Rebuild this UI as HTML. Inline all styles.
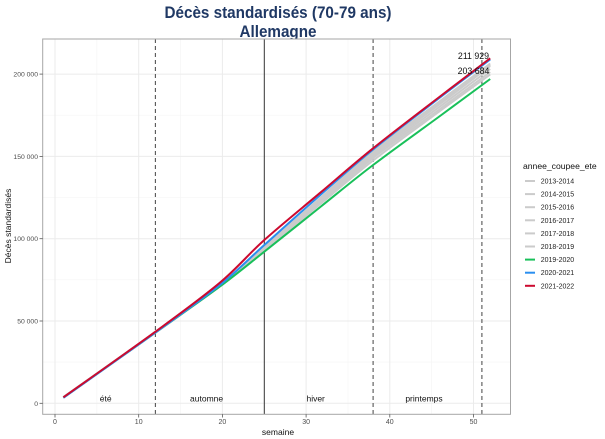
<!DOCTYPE html>
<html><head><meta charset="utf-8">
<style>
html,body{margin:0;padding:0;background:#fff;}
svg{display:block;font-family:"Liberation Sans",Arial,sans-serif;}
</style></head>
<body>
<svg id="chart" width="605" height="439" viewBox="0 0 605 439" xmlns="http://www.w3.org/2000/svg">
<rect width="605" height="439" fill="#fff"/>
<!-- title -->
<text x="278" y="18" text-anchor="middle" font-size="17" font-weight="bold" fill="#1f3864" textLength="227" lengthAdjust="spacingAndGlyphs">Décès standardisés (70-79 ans)</text>
<text x="278" y="37" text-anchor="middle" font-size="17" font-weight="bold" fill="#1f3864" textLength="77" lengthAdjust="spacingAndGlyphs">Allemagne</text>

<!-- panel -->
<rect x="42.7" y="39" width="467.8" height="375.3" fill="#fff"/>
<g stroke="#f4f4f4" stroke-width="0.6">
<line x1="42.7" x2="510.5" y1="362.1" y2="362.1"/>
<line x1="42.7" x2="510.5" y1="279.8" y2="279.8"/>
<line x1="42.7" x2="510.5" y1="197.5" y2="197.5"/>
<line x1="42.7" x2="510.5" y1="115.2" y2="115.2"/>
<line y1="39" y2="414.3" x1="96.9" x2="96.9"/>
<line y1="39" y2="414.3" x1="180.6" x2="180.6"/>
<line y1="39" y2="414.3" x1="264.3" x2="264.3"/>
<line y1="39" y2="414.3" x1="348" x2="348"/>
<line y1="39" y2="414.3" x1="431.7" x2="431.7"/>
</g>
<g stroke="#ebebeb" stroke-width="1">
<line x1="42.7" x2="510.5" y1="403.3" y2="403.3"/>
<line x1="42.7" x2="510.5" y1="321" y2="321"/>
<line x1="42.7" x2="510.5" y1="238.7" y2="238.7"/>
<line x1="42.7" x2="510.5" y1="156.4" y2="156.4"/>
<line x1="42.7" x2="510.5" y1="74.1" y2="74.1"/>
<line y1="39" y2="414.3" x1="55" x2="55"/>
<line y1="39" y2="414.3" x1="138.7" x2="138.7"/>
<line y1="39" y2="414.3" x1="222.4" x2="222.4"/>
<line y1="39" y2="414.3" x1="306.1" x2="306.1"/>
<line y1="39" y2="414.3" x1="389.8" x2="389.8"/>
<line y1="39" y2="414.3" x1="473.5" x2="473.5"/>
</g>

<!-- season lines -->
<g stroke="#555" stroke-width="1.1" stroke-dasharray="4,3">
<line x1="155.4" x2="155.4" y1="39" y2="414.3"/>
<line x1="373.1" x2="373.1" y1="39" y2="414.3"/>
<line x1="481.9" x2="481.9" y1="39" y2="414.3"/>
</g>
<line x1="264.3" x2="264.3" y1="39" y2="414.3" stroke="#333" stroke-width="1"/>

<!-- series -->
<g id="series" fill="none" stroke-linejoin="round" stroke-linecap="butt">
<g stroke="#cbcbcb" stroke-width="2">
<polyline class="s" points="63.4,397.5 155.4,332 219.9,285.5 264.3,247 320.3,198 373.1,151.5 440,101 490.2,63.5"/>
<polyline class="s" points="63.4,397.5 155.4,332.3 219.9,286 264.3,248 320.3,200 373.1,154 440,104 490.2,66"/>
<polyline class="s" points="63.4,397.5 155.4,332.5 219.9,286 264.3,249 320.3,201.5 373.1,156 440,106.5 490.2,69"/>
<polyline class="s" points="63.4,397.5 155.4,332.5 219.9,286.5 264.3,250 320.3,203 373.1,158 440,109 490.2,72"/>
<polyline class="s" points="63.4,397 155.4,332 219.9,285.5 264.3,248.5 320.3,199 373.1,153 440,102.5 490.2,65"/>
<polyline class="s" points="63.4,397.5 155.4,332.8 219.9,286.5 264.3,250.5 320.3,204 373.1,160.5 440,111 490.2,74.5"/>
</g>
<polyline class="s" stroke="#19c05a" stroke-width="2" points="63.4,397.5 155.4,332.5 219.9,286.5 264.3,251.7 320.3,207 373.1,165 440,116 490.2,79"/>
<polyline class="s" stroke="#2a8ff0" stroke-width="2" points="63.4,397.8 155.4,332.5 219.9,285 264.3,245 320.3,195 373.1,149.5 440,97.5 490.2,59.5"/>
<polyline class="s" stroke="#cc0a2f" stroke-width="2" points="63.4,397.3 155.4,331.7 219.9,282.7 264.3,240 320.3,192.7 373.1,148.3 440,96.5 490.2,58.3"/>
</g>

<!-- value labels -->
<g font-size="8.8" fill="#111" text-anchor="middle">
<text x="473.5" y="59.2">211 929</text>
<text x="473.5" y="73.9">203 684</text>
</g>

<!-- season labels -->
<g font-size="8.5" fill="#111" text-anchor="middle">
<text x="105.7" y="401.3">été</text>
<text x="206.6" y="401.3">automne</text>
<text x="315.7" y="401.3">hiver</text>
<text x="424" y="401.3">printemps</text>
</g>

<!-- panel border -->
<rect x="42.7" y="39" width="467.8" height="375.3" fill="none" stroke="#a6a6a6" stroke-width="1"/>

<!-- ticks -->
<g stroke="#555" stroke-width="0.8">
<line x1="39.5" x2="42.7" y1="403.3" y2="403.3"/>
<line x1="39.5" x2="42.7" y1="321" y2="321"/>
<line x1="39.5" x2="42.7" y1="238.7" y2="238.7"/>
<line x1="39.5" x2="42.7" y1="156.4" y2="156.4"/>
<line x1="39.5" x2="42.7" y1="74.1" y2="74.1"/>
<line y1="414.3" y2="417.5" x1="55" x2="55"/>
<line y1="414.3" y2="417.5" x1="138.7" x2="138.7"/>
<line y1="414.3" y2="417.5" x1="222.4" x2="222.4"/>
<line y1="414.3" y2="417.5" x1="306.1" x2="306.1"/>
<line y1="414.3" y2="417.5" x1="389.8" x2="389.8"/>
<line y1="414.3" y2="417.5" x1="473.5" x2="473.5"/>
</g>
<g font-size="6.8" fill="#4d4d4d" text-anchor="end">
<text x="38" y="405.8">0</text>
<text x="38" y="323.5">50 000</text>
<text x="38" y="241.2">100 000</text>
<text x="38" y="158.9">150 000</text>
<text x="38" y="76.6">200 000</text>
</g>
<g font-size="7" fill="#4d4d4d" text-anchor="middle">
<text x="55" y="424">0</text>
<text x="138.7" y="424">10</text>
<text x="222.4" y="424">20</text>
<text x="306.1" y="424">30</text>
<text x="389.8" y="424">40</text>
<text x="473.5" y="424">50</text>
</g>
<text x="278" y="435" font-size="8.5" fill="#111" text-anchor="middle">semaine</text>
<text x="0" y="0" font-size="8.5" fill="#111" text-anchor="middle" transform="translate(11,226) rotate(-90)">Décès standardisés</text>

<!-- legend -->
<text x="523" y="169" font-size="8.6" fill="#111">annee_coupee_ete</text>
<g stroke-width="2">
<line x1="525" x2="535" y1="181" y2="181" stroke="#cbcbcb"/>
<line x1="525" x2="535" y1="194.1" y2="194.1" stroke="#cbcbcb"/>
<line x1="525" x2="535" y1="207.2" y2="207.2" stroke="#cbcbcb"/>
<line x1="525" x2="535" y1="220.3" y2="220.3" stroke="#cbcbcb"/>
<line x1="525" x2="535" y1="233.4" y2="233.4" stroke="#cbcbcb"/>
<line x1="525" x2="535" y1="246.5" y2="246.5" stroke="#cbcbcb"/>
<line x1="525" x2="535" y1="259.6" y2="259.6" stroke="#19c05a"/>
<line x1="525" x2="535" y1="272.7" y2="272.7" stroke="#2a8ff0"/>
<line x1="525" x2="535" y1="285.8" y2="285.8" stroke="#cc0a2f"/>
</g>
<g font-size="7" fill="#222">
<text x="540.7" y="183.5">2013-2014</text>
<text x="540.7" y="196.6">2014-2015</text>
<text x="540.7" y="209.7">2015-2016</text>
<text x="540.7" y="222.8">2016-2017</text>
<text x="540.7" y="235.9">2017-2018</text>
<text x="540.7" y="249">2018-2019</text>
<text x="540.7" y="262.1">2019-2020</text>
<text x="540.7" y="275.2">2020-2021</text>
<text x="540.7" y="288.3">2021-2022</text>
</g>
</svg>
<script>
(function(){
  var NS="http://www.w3.org/2000/svg";
  var lines=document.querySelectorAll("polyline.s");
  for(var k=0;k<lines.length;k++){
    var pl=lines[k];
    var pts=pl.getAttribute("points").trim().split(/\s+/).map(function(s){var a=s.split(",");return [parseFloat(a[0]),parseFloat(a[1])];});
    var n=pts.length;
    var d="M"+pts[0][0]+","+pts[0][1];
    for(var i=0;i<n-1;i++){
      var p0=pts[i>0?i-1:i],p1=pts[i],p2=pts[i+1],p3=pts[i+2<n?i+2:i+1];
      var c1x=p1[0]+(p2[0]-p0[0])/6,c1y=p1[1]+(p2[1]-p0[1])/6;
      var c2x=p2[0]-(p3[0]-p1[0])/6,c2y=p2[1]-(p3[1]-p1[1])/6;
      d+=" C"+c1x.toFixed(2)+","+c1y.toFixed(2)+" "+c2x.toFixed(2)+","+c2y.toFixed(2)+" "+p2[0]+","+p2[1];
    }
    var path=document.createElementNS(NS,"path");
    path.setAttribute("d",d);
    if(pl.getAttribute("stroke"))path.setAttribute("stroke",pl.getAttribute("stroke"));
    if(pl.getAttribute("stroke-width"))path.setAttribute("stroke-width",pl.getAttribute("stroke-width"));
    pl.parentNode.replaceChild(path,pl);
  }
})();
</script>
</body></html>
